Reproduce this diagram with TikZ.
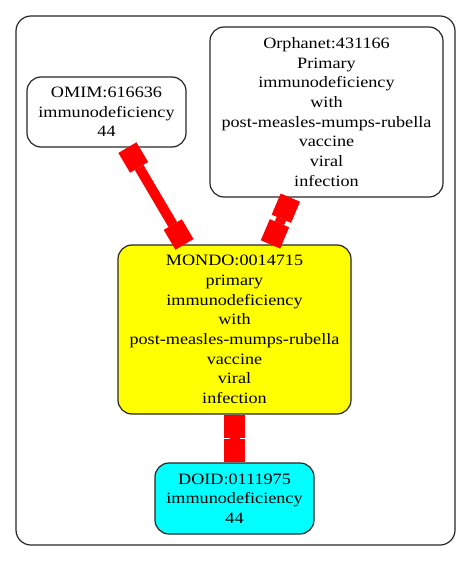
\documentclass[tikz,border=0pt]{standalone}
\usepackage{fontspec}
\setmainfont{Liberation Serif}[FakeStretch=1.15]
\usetikzlibrary{arrows.meta}
\definecolor{gvred}{RGB}{255,0,0}
\definecolor{gvyellow}{RGB}{255,255,0}
\definecolor{gvcyan}{RGB}{0,255,255}
\begin{document}
\begin{tikzpicture}[x=1pt,y=-1pt,
  box/.style={draw=black!85,line width=1.2pt,rounded corners=14pt,inner sep=0pt,align=center,
    font=\fontsize{15.8pt}{19.7pt}\selectfont},
  edge/.style={draw=gvred,line width=10pt,
    {Rectangle[length=23pt,width=21pt,line width=0pt]}-{Rectangle[length=23pt,width=21pt,line width=0pt]}}]
\useasboundingbox (0,0) rectangle (471,561);
\draw[draw=black!85,line width=1.2pt,rounded corners=15pt] (16,16) rectangle (455,545);
\node[box,minimum width=159pt,minimum height=70pt] (omim) at (106.5,112) {OMIM:616636\\immunodeficiency\\44};
\node[box,minimum width=233pt,minimum height=170pt] (orpha) at (326.5,112) {Orphanet:431166\\Primary\\immunodeficiency\\with\\post-measles-mumps-rubella\\vaccine\\viral\\infection};
\node[box,fill=gvyellow,minimum width=233pt,minimum height=169pt] (mondo) at (234.5,329.5) {MONDO:0014715\\primary\\immunodeficiency\\with\\post-measles-mumps-rubella\\vaccine\\viral\\infection};
\node[box,fill=gvcyan,minimum width=159pt,minimum height=71pt] (doid) at (234.5,498.5) {DOID:0111975\\immunodeficiency\\44};
\draw[edge] (omim) -- (mondo);
\draw[edge] (orpha) -- (mondo);
\draw[edge] (mondo) -- (doid);
\end{tikzpicture}
\end{document}
